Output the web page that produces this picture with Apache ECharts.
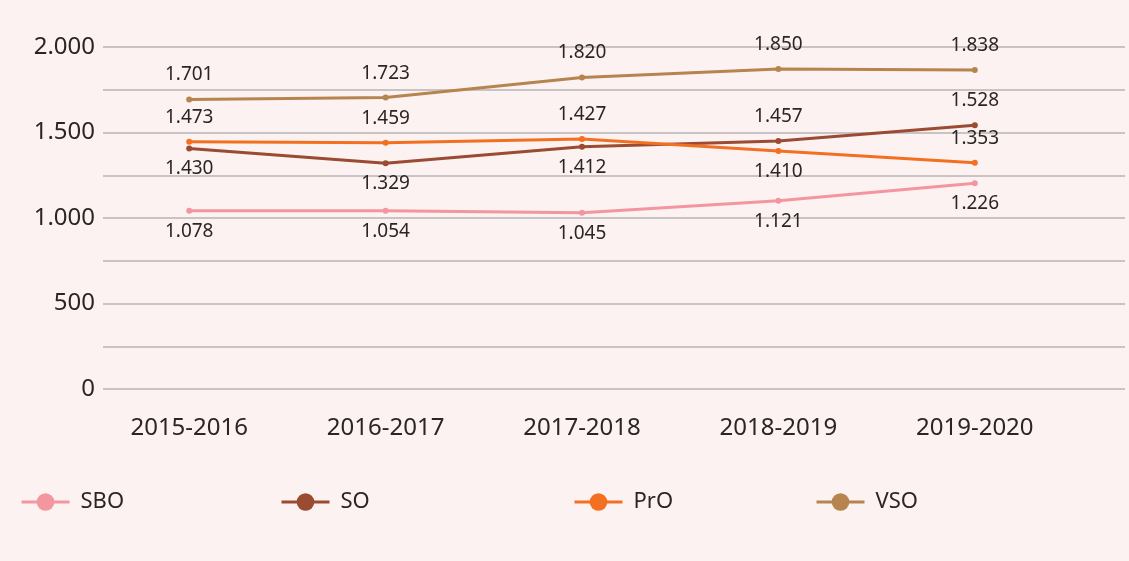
<!DOCTYPE html>
<html>
<head>
<meta charset="utf-8">
<script src="https://cdn.jsdelivr.net/npm/echarts@6/dist/echarts.min.js"></script>
<style>
  html, body { margin: 0; padding: 0; background: #fcf2f1; }
  #chart { width: 1129px; height: 561px; }
</style>
</head>
<body>
<div id="chart"></div>
<script>
const years = ['2015-2016', '2016-2017', '2017-2018', '2018-2019', '2019-2020'];

// plotted positions
const sbo = [1043, 1043, 1031, 1101, 1203];
const so = [1407, 1320, 1417, 1450, 1542];
const pro = [1446, 1440, 1462, 1392, 1323];
const vso = [1693, 1704, 1822, 1871, 1865];

// printed value labels
const sboText = [1078, 1054, 1045, 1121, 1226];
const soText = [1430, 1329, 1412, 1457, 1528];
const proText = [1473, 1459, 1427, 1410, 1353];
const vsoText = [1701, 1723, 1820, 1850, 1838];

// where each value label sits relative to its point
const sboPos = ['bottom', 'bottom', 'bottom', 'bottom', 'bottom'];
const soPos = ['bottom', 'bottom', 'bottom', 'top', 'top'];
const proPos = ['top', 'top', 'top', 'bottom', 'top'];
const vsoPos = ['top', 'top', 'top', 'top', 'top'];

const fontFamily = '"Noto Sans", "Open Sans", sans-serif';
const textColor = '#2b2526';

function fmt (v) {
  return String(v).replace(/\B(?=(\d{3})+(?!\d))/g, '.');
}

function makeSeries (name, color, values, texts, positions) {
  return {
    name: name,
    type: 'line',
    xAxisIndex: 1,
    yAxisIndex: 1,
    symbol: 'circle',
    symbolSize: 6,
    lineStyle: { width: 3, color: color },
    itemStyle: { color: color },
    data: values.map(function (v, i) {
      return {
        value: v,
        label: {
          position: positions[i],
          distance: positions[i] === 'top' ? 12 : 8,
          formatter: fmt(texts[i])
        }
      };
    }),
    label: {
      show: true,
      fontFamily: fontFamily,
      fontSize: 19,
      color: textColor
    }
  };
}

function makeLegend (name, left) {
  return {
    data: [name],
    left: left,
    top: 486,
    itemWidth: 48,
    itemHeight: 22,
    lineStyle: { width: 3 },
    textStyle: {
      fontFamily: fontFamily,
      fontSize: 22,
      color: textColor,
      padding: [0, 0, 0, 6]
    },
    selectedMode: false
  };
}

const chart = echarts.init(document.getElementById('chart'));
chart.setOption({
  backgroundColor: '#fcf2f1',
  animation: false,
  legend: [
    makeLegend('SBO', 15),
    makeLegend('SO', 275),
    makeLegend('PrO', 568),
    makeLegend('VSO', 810)
  ],
  grid: [
    { left: 103, right: 4, top: 47, bottom: 172 },
    { left: 91, right: 56, top: 47, bottom: 172 }
  ],
  xAxis: [
    { gridIndex: 0, type: 'category', data: years, show: false },
    {
      gridIndex: 1,
      type: 'category',
      data: years,
      axisLine: { show: false },
      axisTick: { show: false },
      axisLabel: {
        margin: 27,
        fontFamily: fontFamily,
        fontSize: 24,
        color: textColor
      }
    }
  ],
  yAxis: [
    {
      gridIndex: 0,
      type: 'value',
      min: 0,
      max: 2000,
      interval: 250,
      axisLine: { show: false },
      axisTick: { show: false },
      splitLine: { lineStyle: { color: '#b8b3b3', width: 1.5 } },
      axisLabel: {
        margin: 8,
        fontFamily: fontFamily,
        fontSize: 24,
        color: textColor,
        formatter: function (v) { return v % 500 === 0 ? fmt(v) : ''; }
      }
    },
    {
      gridIndex: 1,
      type: 'value',
      min: 0,
      max: 2000,
      interval: 250,
      show: false
    }
  ],
  series: [
    makeSeries('SBO', '#f4969f', sbo, sboText, sboPos),
    makeSeries('SO', '#9a4b32', so, soText, soPos),
    makeSeries('PrO', '#f37021', pro, proText, proPos),
    makeSeries('VSO', '#b5844f', vso, vsoText, vsoPos)
  ]
});
</script>
</body>
</html>
